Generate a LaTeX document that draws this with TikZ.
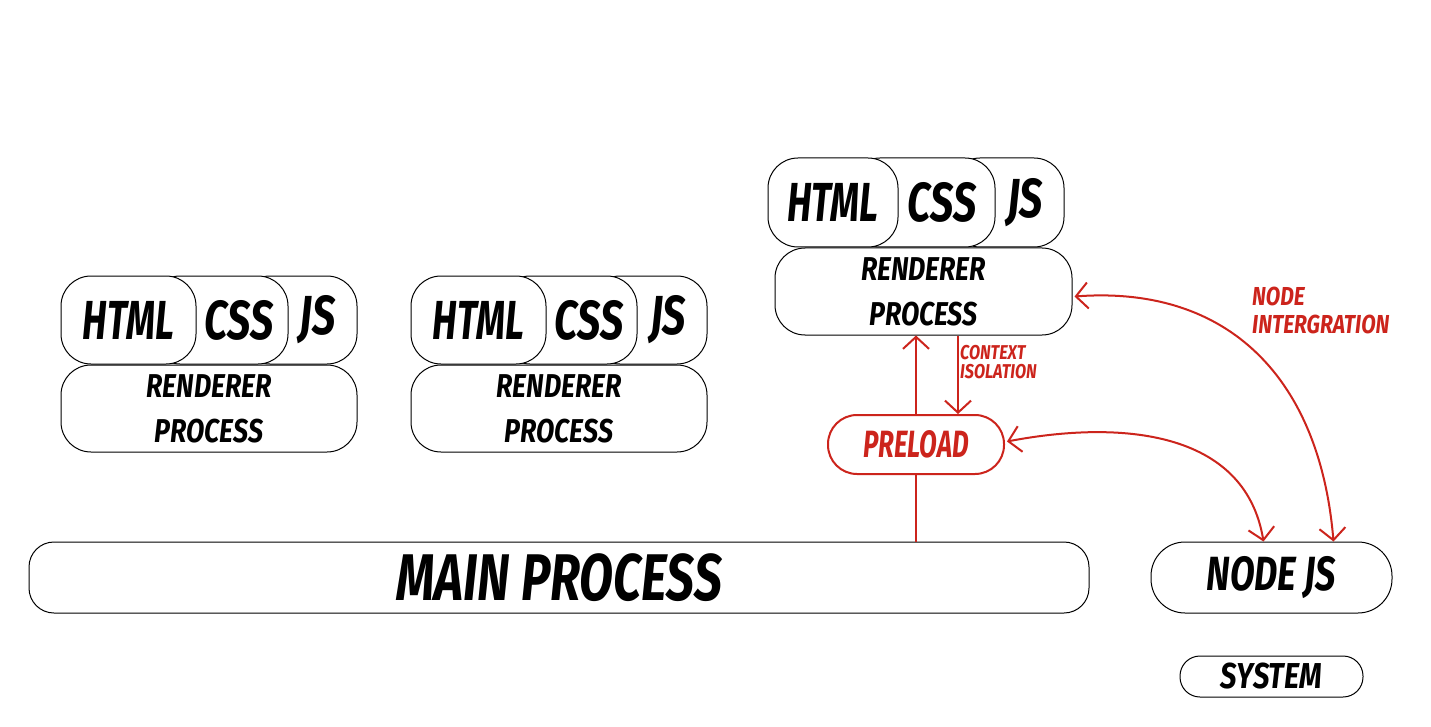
\documentclass[tikz,border=0pt]{standalone}
\usepackage{fontspec}
\newfontfamily\dfont[FakeStretch=0.68]{Fira Sans}
\newfontfamily\dfontB[FakeStretch=0.75]{Fira Sans}
\newfontfamily\dfontC[FakeStretch=0.81]{Fira Sans}
\usetikzlibrary{arrows.meta}
\definecolor{ered}{RGB}{204,36,28}
\newcommand\fHuge{\dfont\bfseries\itshape\fontsize{55}{55}\selectfont}
\newcommand\fHugeB{\dfontB\bfseries\itshape\fontsize{55}{55}\selectfont}
\newcommand\fMain{\dfontB\bfseries\itshape\fontsize{66}{66}\selectfont}
\newcommand\fNode{\dfontB\bfseries\itshape\fontsize{48}{48}\selectfont}
\newcommand\fRend{\dfontC\bfseries\itshape\fontsize{33}{45}\selectfont}
\newcommand\fSys{\dfontC\bfseries\itshape\fontsize{36}{36}\selectfont}
\newcommand\fPre{\dfont\bfseries\itshape\fontsize{38}{38}\selectfont}
\newcommand\fNI{\dfontC\bfseries\itshape\fontsize{26}{28}\selectfont}
\newcommand\fCI{\dfontC\bfseries\itshape\fontsize{20}{19}\selectfont}
\begin{document}
\begin{tikzpicture}[x=1pt,y=-1pt,
  box/.style={draw=black, line width=1pt, fill=white, rounded corners=#1, inner sep=0pt},
  webbox/.style={box=30pt, minimum height=88pt},
  rendbox/.style={box=30pt, minimum height=87pt, minimum width=296pt, align=center, font=\fRend},
  lbl/.style={inner sep=0pt, font=\fHugeB},
  redline/.style={draw=ered, line width=2pt},
  arr/.style={redline, -{Straight Barb[length=12pt,width=26pt,line width=2pt]}},
  darr/.style={redline, {Straight Barb[length=12pt,width=26pt,line width=2pt]}-{Straight Barb[length=12pt,width=26pt,line width=2pt]}}
]
\useasboundingbox[fill=white] (0,0) rectangle (1431,727);

% group 1
\node[webbox, minimum width=117pt] (js1) at (298.5,320) {};
\node[webbox, minimum width=138pt] (css1) at (219,320) {};
\node[webbox, minimum width=135pt, font=\fHuge] (html1) at (128.5,320) {HTML};
\node[lbl] (css1t) at (239,320) {CSS};
\node[lbl] (js1t) at (318,320) {JS};
\node[rendbox] (r1) at (209,408.5) {RENDERER\\PROCESS};

% group 2
\node[webbox, minimum width=117pt] (js2) at (648.5,320) {};
\node[webbox, minimum width=137pt] (css2) at (568.5,320) {};
\node[webbox, minimum width=135pt, font=\fHuge] (html2) at (478.5,320) {HTML};
\node[lbl] (css2t) at (589,320) {CSS};
\node[lbl] (js2t) at (668,320) {JS};
\node[rendbox] (r2) at (559,408.5) {RENDERER\\PROCESS};

% group 3
\node[webbox, minimum width=114pt, minimum height=89pt] (js3) at (1007,202.5) {};
\node[webbox, minimum width=145pt, minimum height=89pt] (css3) at (922.5,202.5) {};
\node[webbox, minimum width=130pt, minimum height=89pt, font=\fHuge] (html3) at (833,202.5) {HTML};
\node[lbl] (css3t) at (942,202.5) {CSS};
\node[lbl] (js3t) at (1025,202.5) {JS};
\node[rendbox, minimum width=297pt] (r3) at (923.5,291.5) {RENDERER\\PROCESS};

% bottom boxes
\node[box=25pt, minimum width=1060pt, minimum height=71pt, font=\fMain] (main) at (559,577.5) {MAIN PROCESS};
\node[box=34pt, minimum width=241pt, minimum height=71pt, font=\fNode] (nodejs) at (1271.5,577.5) {NODE JS};
\node[box=20pt, minimum width=183pt, minimum height=41pt, font=\fSys] (sys) at (1271.5,676.5) {SYSTEM};

% preload
\node[box=29pt, draw=ered, line width=2pt, minimum width=176pt, minimum height=59pt, font=\fPre, text=ered] (pre) at (916,444.5) {PRELOAD};

% connectors
\draw[arr] (pre.north) -- (pre.north |- r3.south);
\coordinate (ci) at ([xshift=42pt]pre.north);
\draw[arr] (ci |- r3.south) -- (ci);
\draw[redline] (pre.south) -- (pre.south |- main.north);
\coordinate (nj1) at ([xshift=-8pt]nodejs.north);
\coordinate (nj2) at ([xshift=62pt]nodejs.north);
\coordinate (re) at ([yshift=-5pt]r3.east);
\draw[darr] ([xshift=2pt,yshift=3pt]pre.east) .. controls (1120,420) and (1245,430) .. (nj1);
\draw[darr] ([xshift=2pt]re) .. controls (1230,285) and (1320,380) .. (nj2);

% labels
\node[anchor=north west, inner sep=0pt, align=left, font=\fCI, text=ered] (cil) at (960,345) {CONTEXT\\ISOLATION};
\node[anchor=north west, inner sep=0pt, align=left, font=\fNI, text=ered] (nil) at (1252,287) {NODE\\INTERGRATION};
\end{tikzpicture}
\end{document}
